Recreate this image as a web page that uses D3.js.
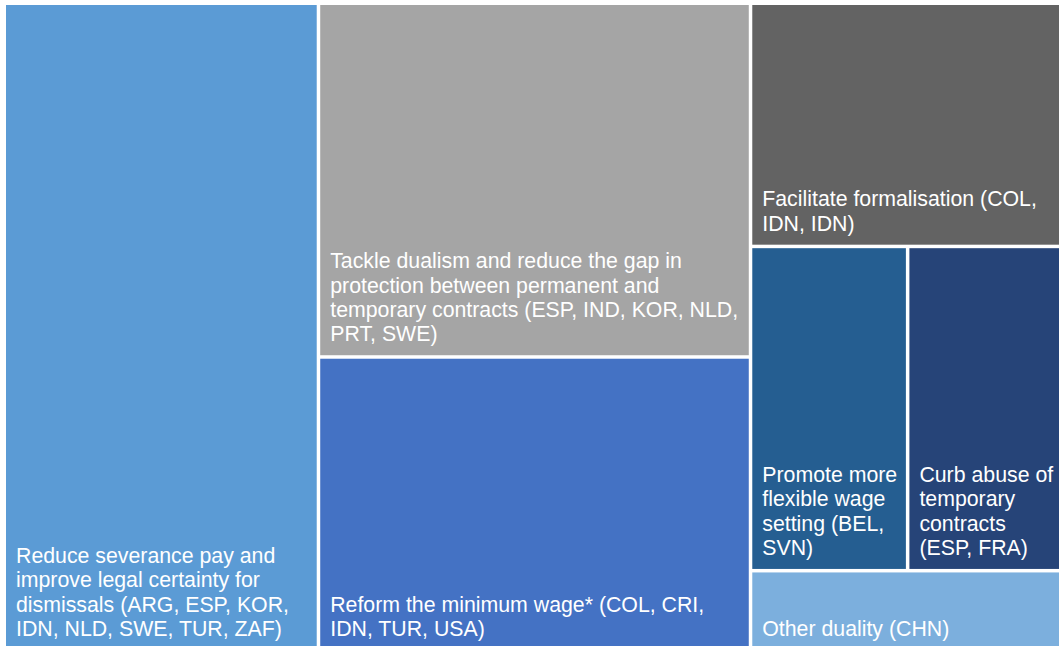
<!DOCTYPE html>
<html>
<head>
<meta charset="utf-8">
<script src="https://cdn.jsdelivr.net/npm/d3@7"></script>
<style>
  html, body { margin: 0; padding: 0; background: #ffffff; overflow: hidden; }
  svg { display: block; }
</style>
</head>
<body>
<svg id="chart" width="1059" height="646"></svg>
<script>
// Categories (leaf labels), values (number of countries), colours, and grouping
const categories = [
  "Reduce severance pay and\nimprove legal certainty for\ndismissals (ARG, ESP, KOR,\nIDN, NLD, SWE, TUR, ZAF)",
  "Tackle dualism and reduce the gap in\nprotection between permanent and\ntemporary contracts (ESP, IND, KOR, NLD,\nPRT, SWE)",
  "Reform the minimum wage* (COL, CRI,\nIDN, TUR, USA)",
  "Facilitate formalisation (COL,\nIDN, IDN)",
  "Promote more\nflexible wage\nsetting (BEL,\nSVN)",
  "Curb abuse of\ntemporary\ncontracts\n(ESP, FRA)",
  "Other duality (CHN)"
];
const values = [8, 6, 5, 3, 2, 2, 1];
const colors = ["#5b9bd5", "#a5a5a5", "#4472c4", "#636363", "#255e91", "#264478", "#7cafdd"];
// group path of each leaf (column / row) used to reproduce the tile arrangement
const groups = [["c1"], ["c2"], ["c2"], ["c3"], ["c3", "r1"], ["c3", "r1"], ["c3"]];

const svg = d3.select("#chart");
const x0 = 6, y0 = 5, W = 1057, H = 645;

// Build hierarchy
const root = { name: "root", children: [] };
function getChild(node, name) {
  let c = node.children.find(d => d.name === name);
  if (!c) { c = { name, children: [] }; node.children.push(c); }
  return c;
}
categories.forEach((cat, i) => {
  let node = root;
  groups[i].forEach(g => { node = getChild(node, g); });
  node.children.push({ name: cat, value: values[i], color: colors[i] });
});
function collapse(n) {
  if (!n.children) return n;
  n.children = n.children.map(collapse);
  if (n.name !== "root" && n.children.length === 1) return n.children[0];
  return n;
}
const data = collapse(root);

const hier = d3.hierarchy(data).sum(d => d.value || 0);
d3.treemap()
  .tile(d3.treemapSliceDice)
  .size([W, H])
  .paddingInner(3.5)
  .round(false)(hier);

const g = svg.append("g").attr("transform", `translate(${x0},${y0})`);
const leaves = hier.leaves();

const cell = g.selectAll("g.cell").data(leaves).join("g").attr("class", "cell");
cell.append("rect")
  .attr("x", d => d.x0).attr("y", d => d.y0)
  .attr("width", d => d.x1 - d.x0).attr("height", d => d.y1 - d.y0)
  .attr("fill", d => d.data.color);

const fs = 21.3, lh = 24.3;
cell.each(function(d) {
  const lines = d.data.name.split("\n");
  const n = lines.length;
  const lastBase = d.y1 - 14;
  const t = d3.select(this).append("text")
    .attr("fill", "#ffffff")
    .attr("font-family", "'Liberation Sans', Arial, sans-serif")
    .attr("font-size", fs);
  lines.forEach((ln, i) => {
    t.append("tspan")
      .attr("x", d.x0 + 10)
      .attr("y", lastBase - (n - 1 - i) * lh)
      .text(ln);
  });
});
</script>
</body>
</html>
